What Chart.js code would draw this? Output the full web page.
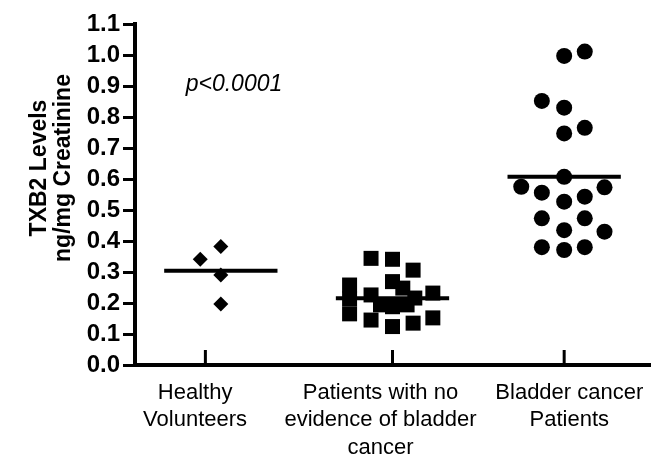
<!DOCTYPE html>
<html>
<head>
<meta charset="utf-8">
<script src="https://cdn.jsdelivr.net/npm/chart.js@4/dist/chart.umd.min.js"></script>
<style>
    html, body { margin: 0; padding: 0; background: #fff; }
    #wrap { width: 668px; height: 461px; }
</style>
</head>
<body>
<div id="wrap"><canvas id="txbChart"></canvas></div>
<script>
// categories (x-axis label lines)
const groupLabels = [
    ['Healthy', 'Volunteers'],
    ['Patients with no', 'evidence of bladder', 'cancer'],
    ['Bladder cancer', 'Patients']
];
const groupCenters = [1, 2, 3];
const tickMarkValues = [0.91, 2, 3];
const labelValues = [0.85, 1.93, 3.03];

// y axis
const yTickValues = [0, 0.1, 0.2, 0.3, 0.4, 0.5, 0.6, 0.7, 0.8, 0.9, 1.0, 1.1];
const yTitle = ['TXB2 Levels', 'ng/mg Creatinine'];
const pValueText = 'p<0.0001';

// series values (y) and horizontal scatter within each group
const healthyValues = [0.382, 0.341, 0.290, 0.197];
const healthyJitter = [0, -0.12, 0, 0];

const noCancerValues = [0.344, 0.341, 0.306, 0.258, 0.213, 0.165, 0.269, 0.248, 0.226,
                        0.216, 0.232, 0.145, 0.194, 0.124, 0.135, 0.152, 0.188, 0.194];
const noCancerJitter = [-0.125, 0, 0.12, -0.25, -0.25, -0.25, 0, 0.06, -0.125,
                        0.13, 0.235, -0.125, -0.07, 0, 0.12, 0.235, 0, 0.085];

const cancerValues = [0.997, 1.011, 0.852, 0.830, 0.747, 0.765, 0.607, 0.575, 0.556, 0.527,
                      0.543, 0.573, 0.473, 0.473, 0.435, 0.430, 0.380, 0.371, 0.380];
const cancerJitter = [0, 0.12, -0.13, 0, 0, 0.12, 0, -0.25, -0.13, 0,
                      0.12, 0.235, -0.13, 0.12, 0, 0.235, -0.13, 0, 0.12];

const groupMeans = [0.304, 0.215, 0.607];
const meanHalfWidth = 0.33;

function toPoints(center, values, jitter) {
    return values.map((v, i) => ({ x: center + jitter[i], y: v }));
}

function meanLine(i) {
    return {
        type: 'line',
        data: [
            { x: groupCenters[i] - meanHalfWidth, y: groupMeans[i] },
            { x: groupCenters[i] + meanHalfWidth, y: groupMeans[i] }
        ],
        borderColor: '#000',
        borderWidth: 4,
        pointRadius: 0,
        showLine: true
    };
}

// extra drawing: inward x ticks, y title, p value
const extrasPlugin = {
    id: 'extras',
    afterDraw(chart) {
        const { ctx, chartArea } = chart;
        const x = chart.scales.x;
        ctx.save();
        ctx.strokeStyle = '#000';
        ctx.lineWidth = 3;
        tickMarkValues.forEach(v => {
            const px = x.getPixelForValue(v);
            ctx.beginPath();
            ctx.moveTo(px, chartArea.bottom);
            ctx.lineTo(px, chartArea.bottom - 15);
            ctx.stroke();
        });

        ctx.fillStyle = '#000';
        ctx.textAlign = 'center';
        ctx.textBaseline = 'middle';
        ctx.font = 'italic 23px "Liberation Sans", Arial, sans-serif';
        ctx.fillText(pValueText, 234, 85);

        ctx.translate(52, 168);
        ctx.rotate(-Math.PI / 2);
        ctx.font = 'bold 23px "Liberation Sans", Arial, sans-serif';
        ctx.fillText(yTitle[0], 0, -12);
        ctx.fillText(yTitle[1], 0, 12);
        ctx.restore();
    }
};

const ctx = document.getElementById('txbChart').getContext('2d');
new Chart(ctx, {
    type: 'scatter',
    data: {
        datasets: [
            {
                data: toPoints(groupCenters[0], healthyValues, healthyJitter),
                pointStyle: 'rectRot',
                pointRadius: 7.5,
                backgroundColor: '#000',
                borderColor: '#000',
                borderWidth: 0
            },
            {
                data: toPoints(groupCenters[1], noCancerValues, noCancerJitter),
                pointStyle: 'rect',
                pointRadius: 10.6,
                backgroundColor: '#000',
                borderColor: '#000',
                borderWidth: 0
            },
            {
                data: toPoints(groupCenters[2], cancerValues, cancerJitter),
                pointStyle: 'circle',
                pointRadius: 8,
                backgroundColor: '#000',
                borderColor: '#000',
                borderWidth: 0
            },
            meanLine(0),
            meanLine(1),
            meanLine(2)
        ]
    },
    options: {
        responsive: true,
        maintainAspectRatio: false,
        animation: false,
        layout: { padding: { top: 24, right: 18, bottom: 0, left: 0 } },
        plugins: {
            legend: { display: false },
            tooltip: { enabled: false }
        },
        scales: {
            x: {
                type: 'linear',
                min: 0.5,
                max: 3.5,
                afterBuildTicks: (scale) => {
                    scale.ticks = labelValues.map(v => ({ value: v }));
                },
                afterFit: (scale) => { scale.height = 96; },
                grid: { display: false },
                border: { display: true, color: '#000', width: 4 },
                ticks: {
                    autoSkip: false,
                    maxRotation: 0,
                    padding: 6,
                    color: '#000',
                    font: { family: '"Liberation Sans", Arial, sans-serif', size: 22, lineHeight: 1.25 },
                    callback: (value, index) => groupLabels[index]
                }
            },
            y: {
                min: 0,
                max: 1.1,
                afterBuildTicks: (scale) => {
                    scale.ticks = yTickValues.map(v => ({ value: v }));
                },
                afterFit: (scale) => { scale.width = 135; },
                grid: {
                    drawOnChartArea: false,
                    drawTicks: true,
                    tickLength: 12,
                    tickWidth: 3,
                    color: '#000'
                },
                border: { display: true, color: '#000', width: 4 },
                ticks: {
                    autoSkip: false,
                    padding: 3,
                    color: '#000',
                    font: { family: '"Liberation Sans", Arial, sans-serif', size: 24, weight: 'bold' },
                    callback: (value) => value.toFixed(1)
                }
            }
        }
    },
    plugins: [extrasPlugin]
});
</script>
</body>
</html>
